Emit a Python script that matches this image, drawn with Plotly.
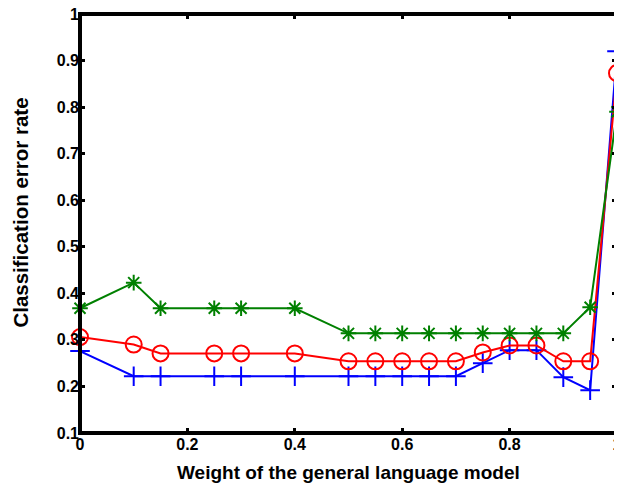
import plotly.graph_objects as go

x = [0, 0.1, 0.15, 0.25, 0.3, 0.4, 0.5, 0.55, 0.6, 0.65, 0.7, 0.75, 0.8, 0.85, 0.9, 0.95, 1.0]
blue = [0.276, 0.222, 0.222, 0.222, 0.222, 0.222, 0.222, 0.222, 0.222, 0.222, 0.222, 0.25, 0.278, 0.278, 0.22, 0.192, 0.92]
red = [0.306, 0.29, 0.271, 0.271, 0.271, 0.271, 0.254, 0.254, 0.254, 0.254, 0.254, 0.273, 0.288, 0.288, 0.254, 0.254, 0.873]
green = [0.368, 0.423, 0.368, 0.368, 0.368, 0.368, 0.314, 0.314, 0.314, 0.314, 0.314, 0.314, 0.314, 0.314, 0.314, 0.37, 0.79]

xticks = [0, 0.2, 0.4, 0.6, 0.8, 1]
xticklabels = ["0", "0.2", "0.4", "0.6", "0.8", "1"]
yticks = [0.1, 0.2, 0.3, 0.4, 0.5, 0.6, 0.7, 0.8, 0.9, 1]
yticklabels = ["0.1", "0.2", "0.3", "0.4", "0.5", "0.6", "0.7", "0.8", "0.9", "1"]
xtitle = "Weight of the general language model"
ytitle = "Classification error rate"

fig = go.Figure()
fig.add_trace(go.Scatter(x=x, y=blue, mode="lines+markers", line=dict(color="#0000FF", width=2),
                         marker=dict(symbol="cross-thin-open", size=14, line=dict(color="#0000FF", width=2)),
                         cliponaxis=False))
fig.add_trace(go.Scatter(x=x, y=red, mode="lines+markers", line=dict(color="#FF0000", width=2),
                         marker=dict(symbol="circle-open", size=16, line=dict(color="#FF0000", width=2)),
                         cliponaxis=False))
fig.add_trace(go.Scatter(x=x, y=green, mode="lines+markers", line=dict(color="#008000", width=2),
                         marker=dict(symbol="asterisk-open", size=13, line=dict(color="#008000", width=2)),
                         cliponaxis=False))

tfont = dict(family="Liberation Sans, Arial", size=16, color="black", weight="bold")
fig.update_layout(
    width=614, height=475,
    margin=dict(l=72, r=5, t=6, b=50),
    paper_bgcolor="white", plot_bgcolor="white",
    showlegend=False,
    xaxis=dict(range=[0, 1], tickvals=xticks, ticktext=xticklabels, automargin=False,
               ticklabeloverflow="allow",
               showgrid=False, zeroline=False, showline=False, mirror="ticks",
               ticks="inside", ticklen=5, tickwidth=3, tickcolor="black", tickfont=tfont),
    yaxis=dict(range=[0.1, 1], tickvals=yticks, ticktext=yticklabels, automargin=False,
               ticklabeloverflow="allow",
               showgrid=False, zeroline=False, showline=False, mirror="ticks",
               ticks="inside", ticklen=5, tickwidth=3, tickcolor="black", tickfont=tfont),
    shapes=[dict(type="rect", xref="paper", yref="paper", x0=0, x1=1, y0=0, y1=1,
                 line=dict(color="black", width=4), layer="above")],
    annotations=[
        dict(text=xtitle, xref="paper", yref="paper", x=0.5, y=0, yanchor="top", yshift=-27,
             showarrow=False, font=dict(family="Liberation Sans, Arial", size=19, color="black", weight="bold")),
        dict(text=ytitle, xref="paper", yref="paper", x=0, y=0.526, xanchor="center", xshift=-59,
             textangle=-90, showarrow=False,
             font=dict(family="Liberation Sans, Arial", size=20.5, color="black", weight="bold")),
    ],
)
fig.write_html("out.html")
